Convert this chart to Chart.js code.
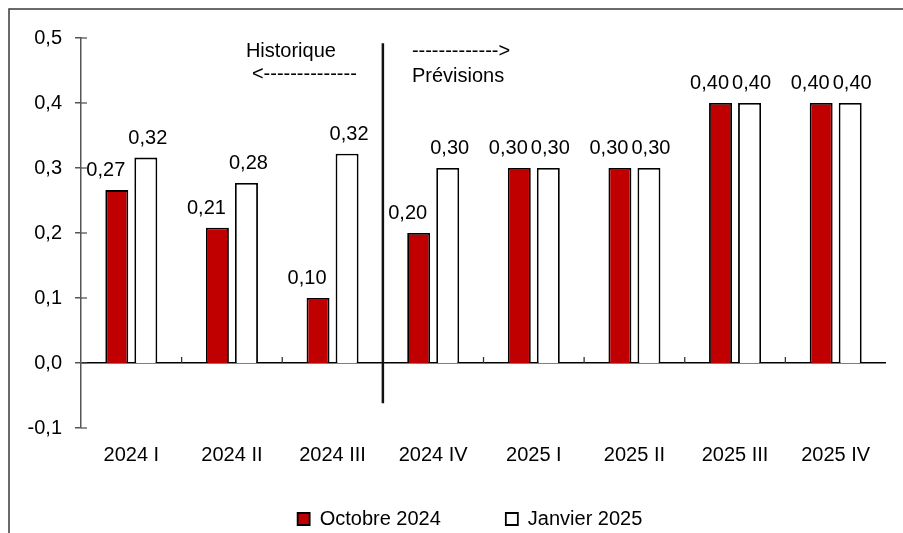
<!DOCTYPE html>
<html><head><meta charset="utf-8">
<script src="https://cdn.jsdelivr.net/npm/chart.js@4/dist/chart.umd.min.js"></script>
<style>html,body{margin:0;padding:0;background:#fff}#wrap{width:903px;height:533px;position:relative}</style>
</head><body><div id="wrap"><canvas id="c" width="903" height="533"></canvas></div>
<script>
const categories = ['2024 I','2024 II','2024 III','2024 IV','2025 I','2025 II','2025 III','2025 IV'];
const octobre2024 = [0.266, 0.208, 0.10, 0.20, 0.30, 0.30, 0.40, 0.40];
const janvier2025 = [0.316, 0.277, 0.322, 0.30, 0.30, 0.30, 0.40, 0.40];
const seriesNames = ['Octobre 2024', 'Janvier 2025'];
const yMin = -0.1, yMax = 0.5, yStep = 0.1;
const historiqueText = ['Historique', '<--------------'];
const previsionsText = ['------------->', 'Prévisions'];

const FONT = "'Liberation Sans', Arial, sans-serif";
const fmt = (v, d) => v.toFixed(d).replace('.', ',').replace(/^-0,0+$/, '0,0');

const noClipPlugin = {
  id: 'noClip',
  beforeDraw(chart) {
    Object.values(chart.scales).forEach(s => { s._computeLabelArea = () => undefined; });
  }
};

const framePlugin = {
  id: 'frame',
  beforeDraw(chart) {
    const ctx = chart.ctx;
    ctx.save();
    ctx.fillStyle = '#fff';
    ctx.fillRect(0, 0, chart.width, chart.height);
    ctx.strokeStyle = '#3a3a3a';
    ctx.lineWidth = 1.5;
    ctx.beginPath();
    ctx.moveTo(9, chart.height + 2); ctx.lineTo(9, 9); ctx.lineTo(chart.width + 2, 9);
    ctx.stroke();
    ctx.restore();
  }
};

const extrasPlugin = {
  id: 'extras',
  afterDatasetsDraw(chart) {
    const ctx = chart.ctx;
    const xs = chart.scales.x, ys = chart.scales.y;
    const area = chart.chartArea;
    const y0 = ys.getPixelForValue(0);
    ctx.save();
    ctx.strokeStyle = '#555'; ctx.lineWidth = 1.3;
    ys.ticks.forEach(t => {
      const py = ys.getPixelForValue(t.value);
      ctx.beginPath(); ctx.moveTo(area.left, py); ctx.lineTo(area.left + 6, py); ctx.stroke();
    });
    ctx.strokeStyle = '#333';
    for (let k = 1; k < categories.length; k++) {
      const bx = (xs.getPixelForValue(k - 1) + xs.getPixelForValue(k)) / 2;
      ctx.beginPath(); ctx.moveTo(bx, y0); ctx.lineTo(bx, y0 - 6); ctx.stroke();
    }
    const xd = (xs.getPixelForValue(2) + xs.getPixelForValue(3)) / 2;
    ctx.strokeStyle = '#111'; ctx.lineWidth = 2.5;
    ctx.beginPath();
    ctx.moveTo(xd, ys.getPixelForValue(0.492));
    ctx.lineTo(xd, ys.getPixelForValue(-0.062));
    ctx.stroke();
    ctx.fillStyle = '#000';
    ctx.font = '20px ' + FONT;
    ctx.textAlign = 'left'; ctx.textBaseline = 'alphabetic';
    ctx.fillText(historiqueText[0], xd - 137, area.top + 19);
    ctx.fillText(historiqueText[1], xd - 131, area.top + 42);
    ctx.fillText(previsionsText[0], xd + 29, area.top + 19);
    ctx.fillText(previsionsText[1], xd + 29, area.top + 44);
    const offsets = [-11, 2];
    ctx.textAlign = 'center';
    chart.data.datasets.forEach((ds, i) => {
      chart.getDatasetMeta(i).data.forEach((bar, j) => {
        ctx.fillText(fmt(ds.data[j], 2), bar.x + offsets[i], bar.y - 14);
      });
    });
    ctx.restore();
  }
};

new Chart(document.getElementById('c'), {
  type: 'bar',
  data: {
    labels: categories,
    datasets: [
      { label: seriesNames[0], data: octobre2024, backgroundColor: '#C00000', borderColor: '#000', borderWidth: 1.8 },
      { label: seriesNames[1], data: janvier2025, backgroundColor: '#FFFFFF', borderColor: '#000', borderWidth: 1.8 }
    ]
  },
  options: {
    responsive: false,
    animation: false,
    devicePixelRatio: 1,
    categoryPercentage: 0.577,
    barPercentage: 0.79,
    layout: { padding: { left: 54, right: 17, top: 38, bottom: -6 } },
    plugins: {
      legend: {
        position: 'bottom',
        labels: {
          boxWidth: 12, boxHeight: 12, padding: 65, color: '#000',
          font: { family: FONT, size: 20 }
        }
      },
      tooltip: { enabled: false }
    },
    scales: {
      x: {
        grid: { display: false, drawTicks: false },
        border: { display: false },
        ticks: { color: '#000', padding: 15, font: { family: FONT, size: 20 }, maxRotation: 0, autoSkip: false },
        afterFit(s) { s.height = 16; }
      },
      y: {
        min: yMin, max: yMax,
        grid: {
          drawOnChartArea: true,
          color: c => (c.tick && Math.abs(c.tick.value) < 1e-9) ? '#000' : 'rgba(0,0,0,0)',
          lineWidth: 1.5,
          tickColor: '#555', tickLength: 6
        },
        border: { display: true, color: '#555', width: 1.5 },
        ticks: {
          stepSize: yStep, color: '#000', padding: 13,
          font: { family: FONT, size: 20 },
          callback: v => fmt(v, 1)
        },
        afterFit(s) { s.width = 27; }
      }
    }
  },
  plugins: [noClipPlugin, framePlugin, extrasPlugin]
});
</script>
</body></html>
